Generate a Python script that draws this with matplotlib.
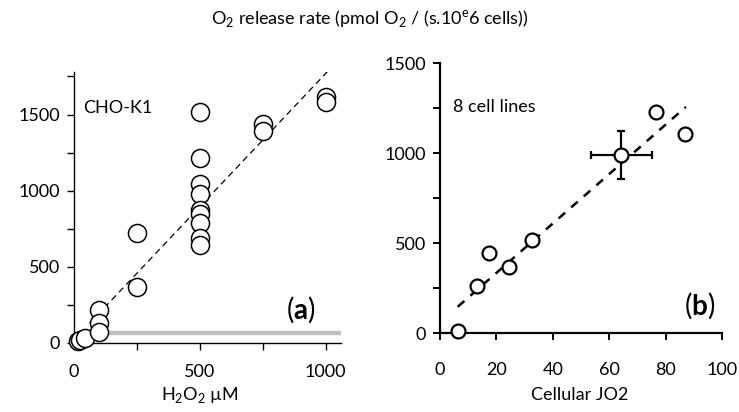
import matplotlib
matplotlib.use("Agg")
import matplotlib.pyplot as plt
import numpy as np

plt.rcParams['font.family'] = ['Lato', 'DejaVu Sans']
plt.rcParams['mathtext.fontset'] = 'custom'
plt.rcParams['mathtext.rm'] = 'Lato'
plt.rcParams['mathtext.bf'] = 'Lato:bold'

# (a) CHO-K1: H2O2 (uM) vs O2 release rate
h2o2 = [15, 25, 45, 100, 100, 100, 250, 250,
        500, 500, 500, 500, 500, 500, 500, 500, 500,
        750, 750, 1000, 1000]
o2_rate_a = [10, 20, 35, 215, 130, 75, 725, 370,
             1515, 1215, 1045, 975, 875, 850, 790, 690, 645,
             1435, 1390, 1615, 1585]
fit_a_x = [63, 1008]
fit_a_y = [130, 1783]
gray_x = [140, 1060]
gray_y = [65, 65]

# (b) 8 cell lines: cellular JO2 vs O2 release rate
jo2 = [6.3, 13.2, 17.4, 24.5, 32.7, 64.2, 76.5, 86.9]
o2_rate_b = [10, 260, 445, 368, 517, 990, 1229, 1109]
err_x = 10.8
err_y = 135
fit_b_x = [6.3, 87.2]
fit_b_y = [146, 1257]

fs = 13

fig = plt.figure(figsize=(7.39, 4.12), dpi=100)

# panel a
ax1 = fig.add_axes([0.100, 0.1675, 0.361, 0.658])
ax1.plot(gray_x, gray_y, color="#c0c0c0", lw=3.2, solid_capstyle="butt", zorder=1)
ax1.plot(fit_a_x, fit_a_y, color="black", lw=0.9, dashes=(5, 3.5), zorder=2)
ax1.plot(h2o2, o2_rate_a, "o", ms=13, mfc="white", mec="black", mew=1.1,
         clip_on=False, zorder=3)
ax1.set_xlim(0, 1060)
ax1.set_ylim(0, 1780)
ax1.set_xticks([0, 500, 1000])
ax1.set_xticks([250, 750], minor=True)
ax1.set_yticks([0, 500, 1000, 1500])
ax1.set_yticks([250, 750, 1250, 1750], minor=True)
for s in ["top", "right"]:
    ax1.spines[s].set_visible(False)
for s in ["left", "bottom"]:
    ax1.spines[s].set_linewidth(1.0)
ax1.tick_params(which="both", direction="out", length=5, width=1.0, labelsize=fs)
ax1.tick_params(axis="x", pad=10)
ax1.tick_params(axis="y", pad=5)
ax1.text(0.034, 0.867, "CHO-K1", transform=ax1.transAxes, fontsize=fs, va="center")
ax1.text(0.85, 0.122, r"($\mathbf{a}$)", transform=ax1.transAxes, fontsize=20,
         ha="center", va="center")

# panel b
ax2 = fig.add_axes([0.5954, 0.1917, 0.3816, 0.655])
ax2.plot(fit_b_x, fit_b_y, color="black", lw=1.8, dashes=(3.5, 3.2), zorder=2)
ax2.errorbar(jo2[5], o2_rate_b[5], xerr=err_x, yerr=err_y, fmt="none",
             ecolor="black", elinewidth=1.6, capsize=3, capthick=1.6, zorder=3)
ax2.plot(jo2, o2_rate_b, "o", ms=10, mfc="white", mec="black", mew=1.6,
         clip_on=False, zorder=4)
ax2.set_xlim(0, 100)
ax2.set_ylim(0, 1500)
ax2.set_xticks(np.arange(0, 101, 20))
ax2.set_yticks([0, 500, 1000, 1500])
ax2.set_yticks([250, 750, 1250], minor=True)
for s in ["top", "right"]:
    ax2.spines[s].set_visible(False)
for s in ["left", "bottom"]:
    ax2.spines[s].set_linewidth(1.6)
ax2.tick_params(which="both", direction="out", length=5, width=1.4, labelsize=fs)
ax2.tick_params(axis="x", pad=16)
ax2.tick_params(axis="y", pad=5)
ax2.text(0.046, 0.837, "8 cell lines", transform=ax2.transAxes, fontsize=fs, va="center")
ax2.text(0.922, 0.10, r"($\mathbf{b}$)", transform=ax2.transAxes, fontsize=20,
         ha="center", va="center")

fig.text(0.5, 0.955, r"O$_2$ release rate (pmol O$_2$ / (s.10$^\mathrm{e}$6 cells))",
         ha="center", va="center", fontsize=fs)
fig.text(200 / 739, 1 - 395 / 412, r"H$_2$O$_2$ µM", ha="center", va="center", fontsize=fs)
fig.text(580 / 739, 1 - 395 / 412, "Cellular JO2", ha="center", va="center", fontsize=fs)

fig.savefig("out.png", dpi=100)
